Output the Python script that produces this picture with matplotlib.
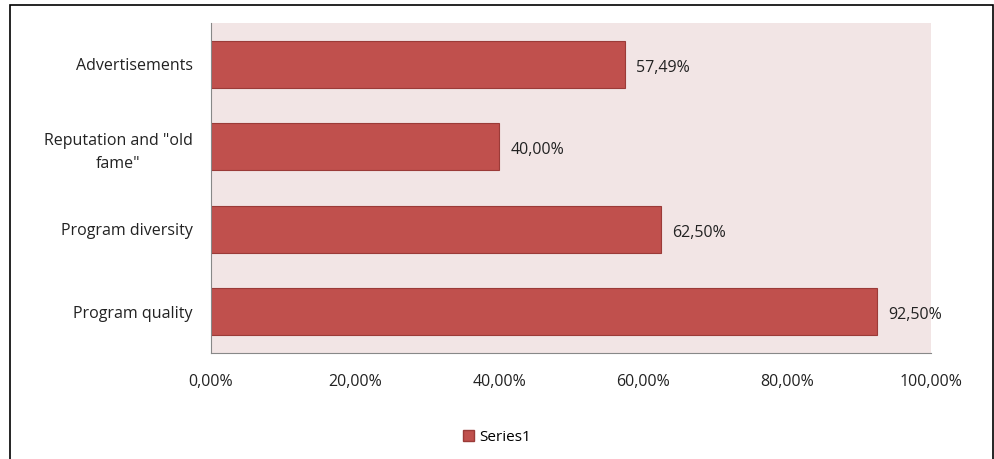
import matplotlib.pyplot as plt
import matplotlib.patches as mpatches
from matplotlib.ticker import FuncFormatter

categories = ["Program quality", "Program diversity", "Reputation and \"old\nfame\"", "Advertisements"]
values = [92.50, 62.50, 40.00, 57.49]
xticks = [0, 20, 40, 60, 80, 100]

bar_color = "#C0504D"
edge_color = "#9B3B38"

plt.rcParams['font.family'] = ['Open Sans', 'DejaVu Sans']

fig = plt.figure(figsize=(9.94, 4.59), dpi=100)
ax = fig.add_axes([0.2123, 0.231, 0.7243, 0.719])
ax.set_facecolor("#F2E5E5")

ypos = list(range(len(categories)))
bars = ax.barh(ypos, values, height=0.57, color=bar_color, edgecolor=edge_color,
               linewidth=0.8, label="Series1")

for y, v in zip(ypos, values):
    ax.text(v + 1.6, y - 0.04, ("%.2f%%" % v).replace(".", ","), va="center", ha="left",
            fontsize=11.5, color="#222222")

ax.set_xlim(0, 100)
ax.set_ylim(-0.5, 3.5)
ax.set_yticks(ypos)
ax.set_yticklabels(categories, fontsize=11.5, color="#222222", ha="right",
                   multialignment="center", linespacing=1.6)
ax.set_xticks(xticks)
ax.xaxis.set_major_formatter(FuncFormatter(lambda x, p: ("%.2f%%" % x).replace(".", ",")))
ax.tick_params(axis="x", length=0, pad=15, labelsize=11.5, labelcolor="#222222")
ax.tick_params(axis="y", length=0, pad=13)

for s in ["top", "right"]:
    ax.spines[s].set_visible(False)
ax.spines["left"].set_color("#888888")
ax.spines["bottom"].set_color("#888888")

leg = fig.legend(handles=[mpatches.Patch(facecolor=bar_color, edgecolor=edge_color, label="Series1")],
                 loc="center", bbox_to_anchor=(0.5, 0.047), frameon=False, fontsize=11,
                 handlelength=0.7, handleheight=0.7, handletextpad=0.3)

border = mpatches.Rectangle((10 / 994, -0.01), 983 / 994, (454) / 459 + 0.01, transform=fig.transFigure,
                            fill=False, edgecolor="black", linewidth=1.2)
fig.patches.append(border)

fig.savefig("out.png", dpi=100)
